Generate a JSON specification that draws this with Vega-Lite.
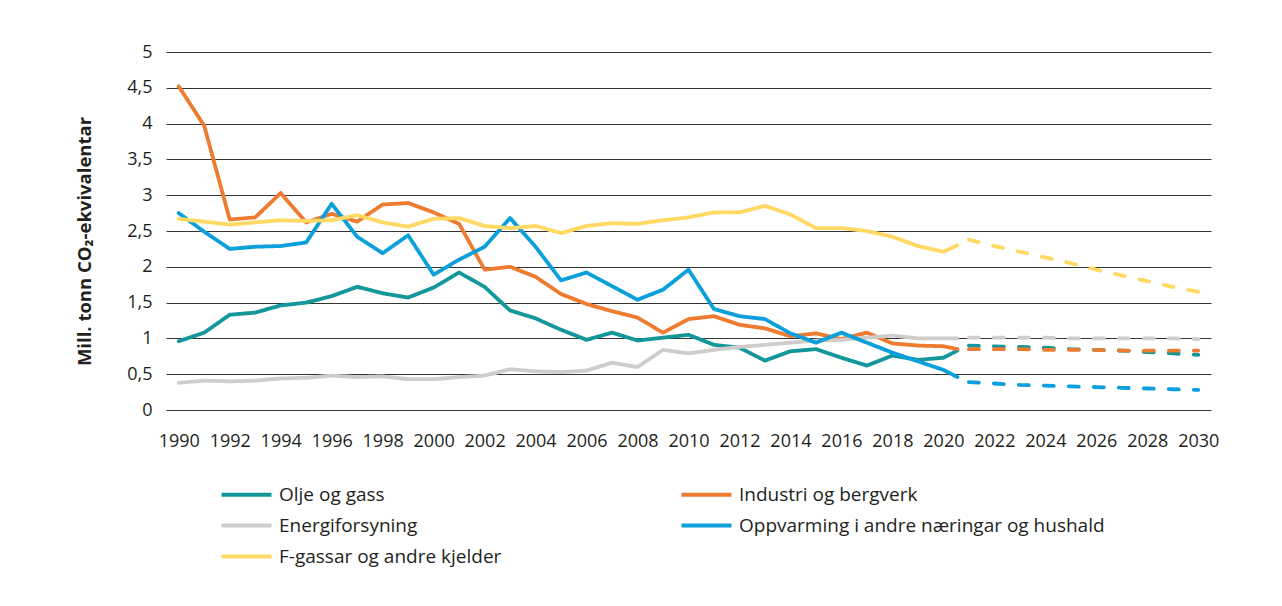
{
  "$schema": "https://vega.github.io/schema/vega-lite/v6.json",
  "width": 1045,
  "height": 358,
  "autosize": "none",
  "padding": {"left": 166, "top": 52, "right": 71, "bottom": 196},
  "background": "white",
  "config": {
    "font": "Open Sans",
    "view": {"stroke": null},
    "axis": {"labelFont": "Open Sans", "labelColor": "#231f20", "titleColor": "#231f20"}
  },
  "data": {
    "values": [
      {"year": 1990, "type": "hist", "Olje og gass": 0.96, "Industri og bergverk": 4.52, "Energiforsyning": 0.38, "Oppvarming i andre næringar og hushald": 2.75, "F-gassar og andre kjelder": 2.67},
      {"year": 1991, "type": "hist", "Olje og gass": 1.08, "Industri og bergverk": 3.97, "Energiforsyning": 0.41, "Oppvarming i andre næringar og hushald": 2.49, "F-gassar og andre kjelder": 2.63},
      {"year": 1992, "type": "hist", "Olje og gass": 1.33, "Industri og bergverk": 2.66, "Energiforsyning": 0.40, "Oppvarming i andre næringar og hushald": 2.25, "F-gassar og andre kjelder": 2.59},
      {"year": 1993, "type": "hist", "Olje og gass": 1.36, "Industri og bergverk": 2.69, "Energiforsyning": 0.41, "Oppvarming i andre næringar og hushald": 2.28, "F-gassar og andre kjelder": 2.62},
      {"year": 1994, "type": "hist", "Olje og gass": 1.46, "Industri og bergverk": 3.03, "Energiforsyning": 0.44, "Oppvarming i andre næringar og hushald": 2.29, "F-gassar og andre kjelder": 2.65},
      {"year": 1995, "type": "hist", "Olje og gass": 1.50, "Industri og bergverk": 2.62, "Energiforsyning": 0.45, "Oppvarming i andre næringar og hushald": 2.34, "F-gassar og andre kjelder": 2.64},
      {"year": 1996, "type": "hist", "Olje og gass": 1.59, "Industri og bergverk": 2.74, "Energiforsyning": 0.48, "Oppvarming i andre næringar og hushald": 2.88, "F-gassar og andre kjelder": 2.65},
      {"year": 1997, "type": "hist", "Olje og gass": 1.72, "Industri og bergverk": 2.63, "Energiforsyning": 0.46, "Oppvarming i andre næringar og hushald": 2.42, "F-gassar og andre kjelder": 2.72},
      {"year": 1998, "type": "hist", "Olje og gass": 1.63, "Industri og bergverk": 2.87, "Energiforsyning": 0.47, "Oppvarming i andre næringar og hushald": 2.19, "F-gassar og andre kjelder": 2.62},
      {"year": 1999, "type": "hist", "Olje og gass": 1.57, "Industri og bergverk": 2.89, "Energiforsyning": 0.43, "Oppvarming i andre næringar og hushald": 2.44, "F-gassar og andre kjelder": 2.56},
      {"year": 2000, "type": "hist", "Olje og gass": 1.71, "Industri og bergverk": 2.76, "Energiforsyning": 0.43, "Oppvarming i andre næringar og hushald": 1.89, "F-gassar og andre kjelder": 2.67},
      {"year": 2001, "type": "hist", "Olje og gass": 1.92, "Industri og bergverk": 2.60, "Energiforsyning": 0.46, "Oppvarming i andre næringar og hushald": 2.10, "F-gassar og andre kjelder": 2.68},
      {"year": 2002, "type": "hist", "Olje og gass": 1.72, "Industri og bergverk": 1.96, "Energiforsyning": 0.48, "Oppvarming i andre næringar og hushald": 2.28, "F-gassar og andre kjelder": 2.57},
      {"year": 2003, "type": "hist", "Olje og gass": 1.39, "Industri og bergverk": 2.00, "Energiforsyning": 0.57, "Oppvarming i andre næringar og hushald": 2.68, "F-gassar og andre kjelder": 2.54},
      {"year": 2004, "type": "hist", "Olje og gass": 1.28, "Industri og bergverk": 1.86, "Energiforsyning": 0.54, "Oppvarming i andre næringar og hushald": 2.28, "F-gassar og andre kjelder": 2.57},
      {"year": 2005, "type": "hist", "Olje og gass": 1.12, "Industri og bergverk": 1.62, "Energiforsyning": 0.53, "Oppvarming i andre næringar og hushald": 1.81, "F-gassar og andre kjelder": 2.47},
      {"year": 2006, "type": "hist", "Olje og gass": 0.98, "Industri og bergverk": 1.48, "Energiforsyning": 0.55, "Oppvarming i andre næringar og hushald": 1.92, "F-gassar og andre kjelder": 2.57},
      {"year": 2007, "type": "hist", "Olje og gass": 1.08, "Industri og bergverk": 1.38, "Energiforsyning": 0.66, "Oppvarming i andre næringar og hushald": 1.73, "F-gassar og andre kjelder": 2.61},
      {"year": 2008, "type": "hist", "Olje og gass": 0.97, "Industri og bergverk": 1.29, "Energiforsyning": 0.60, "Oppvarming i andre næringar og hushald": 1.54, "F-gassar og andre kjelder": 2.60},
      {"year": 2009, "type": "hist", "Olje og gass": 1.01, "Industri og bergverk": 1.08, "Energiforsyning": 0.84, "Oppvarming i andre næringar og hushald": 1.68, "F-gassar og andre kjelder": 2.65},
      {"year": 2010, "type": "hist", "Olje og gass": 1.05, "Industri og bergverk": 1.27, "Energiforsyning": 0.79, "Oppvarming i andre næringar og hushald": 1.96, "F-gassar og andre kjelder": 2.69},
      {"year": 2011, "type": "hist", "Olje og gass": 0.91, "Industri og bergverk": 1.31, "Energiforsyning": 0.84, "Oppvarming i andre næringar og hushald": 1.41, "F-gassar og andre kjelder": 2.76},
      {"year": 2012, "type": "hist", "Olje og gass": 0.87, "Industri og bergverk": 1.19, "Energiforsyning": 0.88, "Oppvarming i andre næringar og hushald": 1.31, "F-gassar og andre kjelder": 2.76},
      {"year": 2013, "type": "hist", "Olje og gass": 0.69, "Industri og bergverk": 1.14, "Energiforsyning": 0.91, "Oppvarming i andre næringar og hushald": 1.27, "F-gassar og andre kjelder": 2.85},
      {"year": 2014, "type": "hist", "Olje og gass": 0.82, "Industri og bergverk": 1.03, "Energiforsyning": 0.94, "Oppvarming i andre næringar og hushald": 1.07, "F-gassar og andre kjelder": 2.73},
      {"year": 2015, "type": "hist", "Olje og gass": 0.85, "Industri og bergverk": 1.07, "Energiforsyning": 0.97, "Oppvarming i andre næringar og hushald": 0.94, "F-gassar og andre kjelder": 2.54},
      {"year": 2016, "type": "hist", "Olje og gass": 0.73, "Industri og bergverk": 0.99, "Energiforsyning": 0.98, "Oppvarming i andre næringar og hushald": 1.08, "F-gassar og andre kjelder": 2.54},
      {"year": 2017, "type": "hist", "Olje og gass": 0.62, "Industri og bergverk": 1.08, "Energiforsyning": 1.01, "Oppvarming i andre næringar og hushald": 0.94, "F-gassar og andre kjelder": 2.50},
      {"year": 2018, "type": "hist", "Olje og gass": 0.76, "Industri og bergverk": 0.93, "Energiforsyning": 1.04, "Oppvarming i andre næringar og hushald": 0.80, "F-gassar og andre kjelder": 2.42},
      {"year": 2019, "type": "hist", "Olje og gass": 0.70, "Industri og bergverk": 0.90, "Energiforsyning": 1.00, "Oppvarming i andre næringar og hushald": 0.68, "F-gassar og andre kjelder": 2.29},
      {"year": 2020, "type": "hist", "Olje og gass": 0.73, "Industri og bergverk": 0.89, "Energiforsyning": 1.00, "Oppvarming i andre næringar og hushald": 0.56, "F-gassar og andre kjelder": 2.21},
      {"year": 2020.55, "type": "hist", "Olje og gass": 0.83, "Industri og bergverk": 0.85, "Energiforsyning": 1.00, "Oppvarming i andre næringar og hushald": 0.46, "F-gassar og andre kjelder": 2.30},
      {"year": 2021, "type": "proj", "Olje og gass": 0.90, "Industri og bergverk": 0.85, "Energiforsyning": 1.01, "Oppvarming i andre næringar og hushald": 0.39, "F-gassar og andre kjelder": 2.38},
      {"year": 2022, "type": "proj", "Olje og gass": 0.89, "Industri og bergverk": 0.85, "Energiforsyning": 1.01, "Oppvarming i andre næringar og hushald": 0.37, "F-gassar og andre kjelder": 2.29},
      {"year": 2023, "type": "proj", "Olje og gass": 0.88, "Industri og bergverk": 0.85, "Energiforsyning": 1.01, "Oppvarming i andre næringar og hushald": 0.35, "F-gassar og andre kjelder": 2.21},
      {"year": 2024, "type": "proj", "Olje og gass": 0.87, "Industri og bergverk": 0.84, "Energiforsyning": 1.01, "Oppvarming i andre næringar og hushald": 0.34, "F-gassar og andre kjelder": 2.13},
      {"year": 2025, "type": "proj", "Olje og gass": 0.85, "Industri og bergverk": 0.84, "Energiforsyning": 1.00, "Oppvarming i andre næringar og hushald": 0.33, "F-gassar og andre kjelder": 2.05},
      {"year": 2026, "type": "proj", "Olje og gass": 0.84, "Industri og bergverk": 0.84, "Energiforsyning": 1.00, "Oppvarming i andre næringar og hushald": 0.32, "F-gassar og andre kjelder": 1.96},
      {"year": 2027, "type": "proj", "Olje og gass": 0.83, "Industri og bergverk": 0.83, "Energiforsyning": 1.00, "Oppvarming i andre næringar og hushald": 0.31, "F-gassar og andre kjelder": 1.88},
      {"year": 2028, "type": "proj", "Olje og gass": 0.81, "Industri og bergverk": 0.83, "Energiforsyning": 1.00, "Oppvarming i andre næringar og hushald": 0.30, "F-gassar og andre kjelder": 1.80},
      {"year": 2029, "type": "proj", "Olje og gass": 0.79, "Industri og bergverk": 0.83, "Energiforsyning": 1.00, "Oppvarming i andre næringar og hushald": 0.29, "F-gassar og andre kjelder": 1.72},
      {"year": 2030, "type": "proj", "Olje og gass": 0.77, "Industri og bergverk": 0.83, "Energiforsyning": 0.99, "Oppvarming i andre næringar og hushald": 0.28, "F-gassar og andre kjelder": 1.65}
    ]
  },
  "transform": [
    {"fold": ["Olje og gass", "Industri og bergverk", "Energiforsyning", "Oppvarming i andre næringar og hushald", "F-gassar og andre kjelder"], "as": ["series", "value"]}
  ],
  "mark": {"type": "line", "strokeWidth": 3.8, "strokeCap": "round", "strokeJoin": "round"},
  "encoding": {
    "x": {
      "field": "year", "type": "quantitative",
      "scale": {"domain": [1989.5, 2030.5], "nice": false, "zero": false},
      "axis": {
        "title": null, "values": [1990, 1992, 1994, 1996, 1998, 2000, 2002, 2004, 2006, 2008, 2010, 2012, 2014, 2016, 2018, 2020, 2022, 2024, 2026, 2028, 2030],
        "format": "d", "grid": false, "domain": false, "ticks": false, "tickSize": 0,
        "labelFontSize": 18, "labelPadding": 22, "labelFlush": false, "labelOverlap": false
      }
    },
    "y": {
      "field": "value", "type": "quantitative",
      "scale": {"domain": [0, 5], "nice": false},
      "axis": {
        "title": "Mill. tonn CO₂-ekvivalentar",
        "titleFont": "Open Sans", "titleFontSize": 18.5, "titleFontWeight": "bold", "titlePadding": 32, "titleY": 189,
        "values": [0, 0.5, 1, 1.5, 2, 2.5, 3, 3.5, 4, 4.5, 5],
        "labelExpr": "replace(toString(datum.value), '.', ',')",
        "grid": true, "gridColor": "#333333", "gridWidth": 1,
        "domain": false, "ticks": false, "tickSize": 0,
        "labelFontSize": 18, "labelPadding": 14
      }
    },
    "color": {
      "field": "series", "type": "nominal",
      "scale": {
        "domain": ["Olje og gass", "Industri og bergverk", "Energiforsyning", "Oppvarming i andre næringar og hushald", "F-gassar og andre kjelder"],
        "range": ["#14979b", "#ee7b30", "#d0ccc9", "#0b9fdc", "#ffd964"]
      },
      "legend": {
        "title": null, "orient": "none", "legendX": 66, "legendY": 428,
        "direction": "horizontal", "columns": 2, "columnPadding": 171, "rowPadding": 6,
        "symbolType": "M-2,0H2", "symbolSize": 625, "symbolStrokeWidth": 4,
        "labelFont": "Open Sans", "labelFontSize": 19, "labelColor": "#231f20", "labelOffset": 18,
        "labelLimit": 500, "padding": 0
      }
    },
    "strokeDash": {
      "field": "type", "type": "nominal",
      "scale": {"domain": ["hist", "proj"], "range": [[1, 0], [10, 15]]},
      "legend": null
    }
  }
}
